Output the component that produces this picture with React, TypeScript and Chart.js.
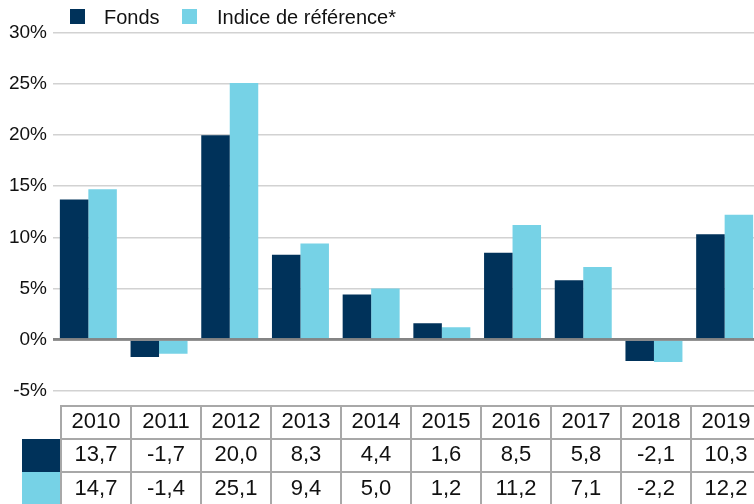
import React, { useEffect, useRef } from "react";
import { Chart, registerables } from "chart.js";

Chart.register(...registerables);

const years = ["2010", "2011", "2012", "2013", "2014", "2015", "2016", "2017", "2018", "2019"];
const fonds = [13.7, -1.7, 20.0, 8.3, 4.4, 1.6, 8.5, 5.8, -2.1, 10.3];
const indice = [14.7, -1.4, 25.1, 9.4, 5.0, 1.2, 11.2, 7.1, -2.2, 12.2];
const seriesNames = ["Fonds", "Indice de référence*"];
const yTicks = [-5, 0, 5, 10, 15, 20, 25, 30];

const DARK = "#00325a";
const LIGHT = "#76d2e6";
const FONT = "'Liberation Sans', Arial, Helvetica, sans-serif";
const LINE = "#a8a8a8";

const fmt = (v: number) => v.toFixed(1).replace(".", ",");

const zeroLinePlugin = {
  id: "zeroLine",
  afterDatasetsDraw(chart: any) {
    const y = chart.scales.y;
    const { left, right } = chart.chartArea;
    const py = y.getPixelForValue(0);
    const ctx = chart.ctx;
    ctx.save();
    ctx.strokeStyle = "#858585";
    ctx.lineWidth = 2.5;
    ctx.beginPath();
    ctx.moveTo(left, py);
    ctx.lineTo(right, py);
    ctx.stroke();
    ctx.restore();
  },
};

export default function App() {
  const ref = useRef<HTMLCanvasElement>(null);

  useEffect(() => {
    if (!ref.current) return;
    const chart = new Chart(ref.current, {
      type: "bar",
      data: {
        labels: years,
        datasets: [
          { label: seriesNames[0], data: fonds, backgroundColor: DARK, categoryPercentage: 0.806, barPercentage: 1 },
          { label: seriesNames[1], data: indice, backgroundColor: LIGHT, categoryPercentage: 0.806, barPercentage: 1 },
        ] as any,
      },
      options: {
        animation: false,
        responsive: false,
        layout: { padding: { top: 33, bottom: 11, left: 0, right: 10 } },
        plugins: { legend: { display: false }, tooltip: { enabled: false } },
        scales: {
          x: { display: false, offset: true },
          y: {
            min: yTicks[0],
            max: yTicks[yTicks.length - 1],
            afterBuildTicks: (s: any) => {
              s.ticks = yTicks.map((v) => ({ value: v }));
            },
            afterFit: (s: any) => {
              s.width = 53;
            },
            ticks: {
              callback: (v: any) => v + "%",
              padding: 6,
              color: "#111",
              font: { family: FONT, size: 19 },
            },
            grid: {
              drawTicks: false,
              color: (c: any) => (c.tick && c.tick.value === 0 ? "#858585" : "#d2d2d2"),
              lineWidth: (c: any) => (c.tick && c.tick.value === 0 ? 2.5 : 1.6),
            },
            border: { display: false },
          },
        },
      } as any,
      plugins: [zeroLinePlugin],
    });
    return () => chart.destroy();
  }, []);

  const colLeft = 61;
  const colW = 70;
  const rowTops = [406, 439, 472];
  const textTops = [410, 443, 477];

  const cells: React.ReactNode[] = [];
  for (let k = 0; k <= years.length; k++) {
    cells.push(
      <div key={"v" + k} style={{ position: "absolute", left: colLeft + colW * k - 1, top: rowTops[0] - 1, width: 2, height: 120, background: LINE }} />
    );
  }
  rowTops.forEach((t, i) => {
    cells.push(
      <div key={"h" + i} style={{ position: "absolute", left: colLeft - 1, top: t - 1, width: colW * years.length + 2, height: 2, background: LINE }} />
    );
  });
  const rows = [years, fonds.map(fmt), indice.map(fmt)];
  rows.forEach((row, r) => {
    row.forEach((txt, i) => {
      cells.push(
        <div
          key={"t" + r + "-" + i}
          style={{
            position: "absolute",
            left: colLeft + colW * i,
            top: textTops[r],
            width: colW,
            height: 22,
            lineHeight: "22px",
            fontSize: 22,
            textAlign: "center",
            color: "#111",
          }}
        >
          {txt}
        </div>
      );
    });
  });

  return (
    <div style={{ position: "absolute", left: 0, top: 0, width: 754, height: 504, overflow: "hidden", background: "#fff", fontFamily: FONT }}>
      <canvas ref={ref} width={770} height={408} style={{ position: "absolute", left: 0, top: 0, width: 770, height: 408 }} />
      <div style={{ position: "absolute", left: 70, top: 9, width: 15, height: 15, background: DARK }} />
      <div style={{ position: "absolute", left: 104, top: 7, fontSize: 20, lineHeight: "20px", color: "#111", whiteSpace: "nowrap" }}>{seriesNames[0]}</div>
      <div style={{ position: "absolute", left: 182, top: 9, width: 15, height: 15, background: LIGHT }} />
      <div style={{ position: "absolute", left: 217, top: 7, fontSize: 20, lineHeight: "20px", color: "#111", whiteSpace: "nowrap" }}>{seriesNames[1]}</div>
      <div style={{ position: "absolute", left: 22, top: 439, width: 39, height: 33, background: DARK }} />
      <div style={{ position: "absolute", left: 22, top: 472, width: 39, height: 40, background: LIGHT }} />
      {cells}
    </div>
  );
}
